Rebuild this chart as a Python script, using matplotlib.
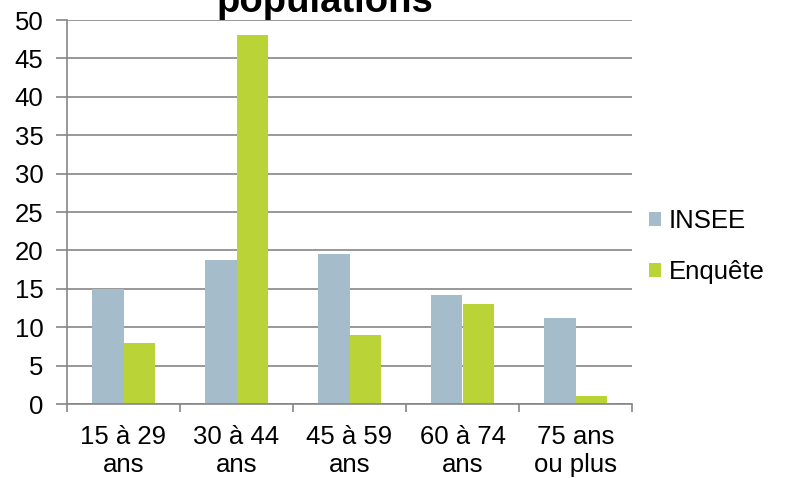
import numpy as np
import matplotlib
matplotlib.use("Agg")
from matplotlib import pyplot as plt
from matplotlib.ticker import FixedLocator, NullFormatter

# Data
categories = ["15 à 29\nans", "30 à 44\nans", "45 à 59\nans", "60 à 74\nans", "75 ans\nou plus"]
insee = [15.0, 18.7, 19.5, 14.2, 11.2]
enquete = [8.0, 48.0, 9.0, 13.0, 1.0]

plt.rcParams["font.family"] = ["Liberation Sans", "DejaVu Sans"]

fig = plt.figure(figsize=(7.93, 4.78), dpi=100)
ax = fig.add_axes([67 / 793, 74 / 478, 565 / 793, 384 / 478])

x = np.arange(len(categories))
width = 0.283
grid_col = "#868686"
fs = 18.5

ax.bar(x - width / 2, insee, width, color="#A5BDCA", label="INSEE", zorder=2)
ax.bar(x + width / 2, enquete, width, color="#BAD437", label="Enquête", zorder=2)

ax.set_xlim(-0.5, len(categories) - 0.5)
ax.set_ylim(0, 50)
ax.set_yticks(range(0, 51, 5))
ax.yaxis.grid(True, color=grid_col, linewidth=1.2, zorder=0)

ax.set_xticks(x)
ax.set_xticklabels(categories, fontsize=fs, linespacing=1.2)
ax.xaxis.set_minor_locator(FixedLocator(np.arange(-0.5, len(categories), 1)))
ax.xaxis.set_minor_formatter(NullFormatter())
ax.tick_params(axis="x", which="major", length=0, pad=15)
ax.tick_params(axis="x", which="minor", length=6, width=1.2, color=grid_col)
ax.tick_params(axis="y", length=8, width=1.2, color=grid_col, labelsize=fs, pad=9)

for side in ["top", "right"]:
    ax.spines[side].set_visible(False)
for side in ["left", "bottom"]:
    ax.spines[side].set_color(grid_col)
    ax.spines[side].set_linewidth(1.2)

ax.legend(loc="center left", bbox_to_anchor=(1.003, 0.41), frameon=False,
          fontsize=fs, handlelength=0.45, handleheight=0.45, handletextpad=0.3,
          labelspacing=1.05, borderaxespad=0.2)

fig.text(325 / 793, 1 - 12 / 478, "populations", ha="center", va="baseline",
         fontsize=27.5, fontweight="bold")

fig.savefig("out.png", dpi=100)
